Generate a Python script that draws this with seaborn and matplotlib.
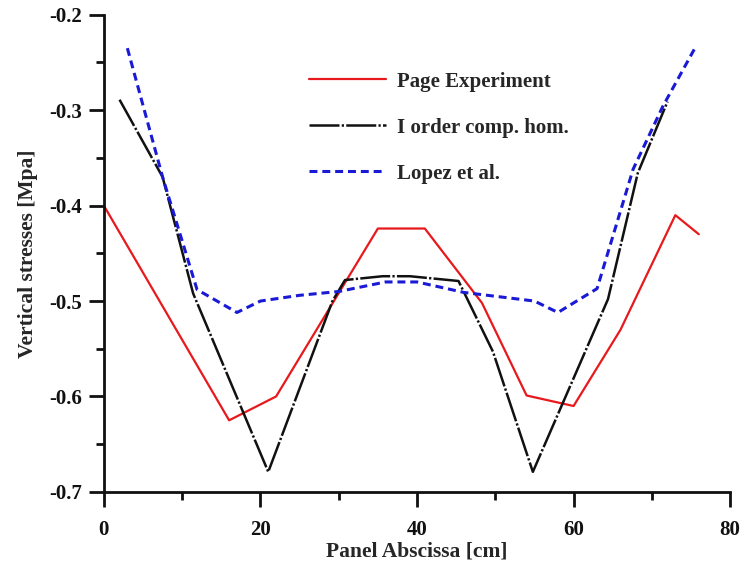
import matplotlib
matplotlib.use("Agg")
import matplotlib.pyplot as plt
from matplotlib.ticker import MultipleLocator, FormatStrFormatter
import seaborn as sns
import pandas as pd

# Vertical stresses along the panel abscissa
page_x = [0, 16, 22, 35, 41, 48.3, 54, 60, 66, 73, 76]
page_y = [-0.400, -0.625, -0.600, -0.424, -0.424, -0.502, -0.599, -0.610, -0.530, -0.410, -0.430]

hom_x = [2, 7.5, 11.4, 21, 29.2, 30.8, 35.6, 39.1, 45.3, 49.7, 54.8, 64.4, 68.2, 72]
hom_y = [-0.289, -0.370, -0.492, -0.679, -0.500, -0.478, -0.474, -0.474, -0.479, -0.553, -0.679, -0.498, -0.366, -0.291]

lopez_x = [3, 7.5, 11.9, 17, 20, 25, 30, 36, 40, 46, 55, 58, 63, 67.6, 71.4, 75.5]
lopez_y = [-0.235, -0.370, -0.488, -0.512, -0.500, -0.494, -0.490, -0.480, -0.480, -0.491, -0.500, -0.512, -0.487, -0.362, -0.296, -0.235]

labels = ["Page Experiment", "I order comp. hom.", "Lopez et al."]

sns.set_theme(style="ticks")
plt.rcParams["font.family"] = ["Liberation Serif", "DejaVu Serif"]
plt.rcParams["font.weight"] = "bold"

fig = plt.figure(figsize=(7.42, 5.68), dpi=100)
ax = fig.add_axes([0.140, 0.134, 0.844, 0.840])

df_page = pd.DataFrame({"x": page_x, "y": page_y})
df_hom = pd.DataFrame({"x": hom_x, "y": hom_y})
df_lopez = pd.DataFrame({"x": lopez_x, "y": lopez_y})

sns.lineplot(data=df_page, x="x", y="y", ax=ax, color="#e8191c", lw=1.6,
             label=labels[0])
sns.lineplot(data=df_hom, x="x", y="y", ax=ax, color="#111111", lw=1.8,
             label=labels[1])
sns.lineplot(data=df_lopez, x="x", y="y", ax=ax, color="#1a1ad6", lw=2.2,
             label=labels[2])

lines = ax.get_lines()
lines[1].set_dashes([12, 0.9, 0.9, 0.9])
lines[2].set_dashes([2.6, 1.6])

ax.set_xlim(0, 80)
ax.set_ylim(-0.7, -0.2)
ax.xaxis.set_major_locator(MultipleLocator(20))
ax.xaxis.set_minor_locator(MultipleLocator(10))
ax.yaxis.set_major_locator(MultipleLocator(0.1))
ax.yaxis.set_minor_locator(MultipleLocator(0.05))
ax.xaxis.set_major_formatter(FormatStrFormatter("%g"))
ax.yaxis.set_major_formatter(FormatStrFormatter("%.1f"))

for side in ("top", "right"):
    ax.spines[side].set_visible(False)
for side in ("left", "bottom"):
    ax.spines[side].set_linewidth(2.0)
    ax.spines[side].set_color("#111111")

ax.tick_params(which="major", direction="out", length=11, width=2.0,
               labelsize=15, colors="#111111")
ax.tick_params(axis="x", which="major", pad=9)
ax.tick_params(axis="y", which="major", pad=5)
ax.tick_params(which="minor", direction="out", length=6, width=2.0,
               colors="#111111")
for t in ax.get_xticklabels() + ax.get_yticklabels():
    t.set_fontweight("bold")

ax.set_xlabel("Panel Abscissa [cm]", fontsize=15.5, fontweight="bold",
              labelpad=1)
ax.set_ylabel("Vertical stresses [Mpa]", fontsize=15.5, fontweight="bold",
              labelpad=8)

leg = ax.legend(loc="upper left", bbox_to_anchor=(0.298, 0.92), frameon=False,
                handlelength=3.7, labelspacing=1.25, handletextpad=0.5,
                prop={"size": 15, "weight": "bold"})

fig.savefig("out.png", dpi=100, facecolor="white")
